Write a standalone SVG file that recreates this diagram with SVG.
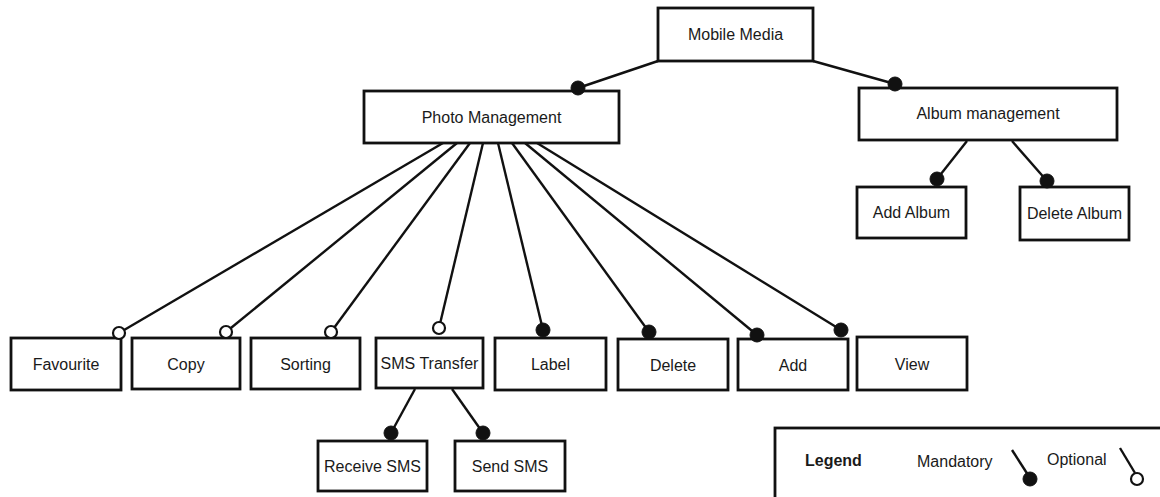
<svg xmlns="http://www.w3.org/2000/svg" width="1160" height="497" viewBox="0 0 1160 497">
<style>
.box{fill:#fff;stroke:#111;stroke-width:2.8}
.t{font-family:"Liberation Sans",Arial,sans-serif;font-size:16px;fill:#1a1a1a;text-anchor:middle}
.lg{font-family:"Liberation Sans",Arial,sans-serif;font-size:16px;fill:#1a1a1a}
.ln{stroke:#111;stroke-width:2.4;fill:none}
.m{fill:#111;stroke:#111;stroke-width:1}
.o{fill:#fff;stroke:#111;stroke-width:2.2}
</style>
<rect width="1160" height="497" fill="#fff"/>
<g id="connectors">
<line class="ln" x1="658" y1="61" x2="578" y2="88"/>
<line class="ln" x1="813" y1="61" x2="895" y2="84"/>
<line class="ln" x1="967" y1="141" x2="937" y2="179"/>
<line class="ln" x1="1012" y1="141" x2="1047" y2="181"/>
<line class="ln" x1="443" y1="143" x2="119" y2="333"/>
<line class="ln" x1="457" y1="143" x2="226" y2="332"/>
<line class="ln" x1="470" y1="143" x2="331" y2="332"/>
<line class="ln" x1="483" y1="143" x2="439" y2="328"/>
<line class="ln" x1="498" y1="143" x2="543" y2="330"/>
<line class="ln" x1="512" y1="143" x2="649" y2="332"/>
<line class="ln" x1="525" y1="143" x2="757" y2="335"/>
<line class="ln" x1="537" y1="143" x2="841" y2="330"/>
<line class="ln" x1="415" y1="389" x2="391" y2="433"/>
<line class="ln" x1="452" y1="389" x2="483" y2="433"/>
</g>
<g id="mobile-media"><rect class="box" x="658" y="8" width="155" height="53"/><text class="t" x="735.5" y="40">Mobile Media</text></g>
<g id="photo-management"><rect class="box" x="364" y="91" width="255" height="52"/><text class="t" x="491.5" y="123">Photo Management</text></g>
<g id="album-management"><rect class="box" x="859" y="88" width="258" height="52"/><text class="t" x="988" y="119">Album management</text></g>
<g id="add-album"><rect class="box" x="857" y="187" width="109" height="51"/><text class="t" x="911.5" y="218">Add Album</text></g>
<g id="delete-album"><rect class="box" x="1020" y="187" width="109" height="53"/><text class="t" x="1074.5" y="219">Delete Album</text></g>
<g id="favourite"><rect class="box" x="11" y="338" width="110" height="52"/><text class="t" x="66" y="370">Favourite</text></g>
<g id="copy"><rect class="box" x="132" y="338" width="108" height="51"/><text class="t" x="186" y="370">Copy</text></g>
<g id="sorting"><rect class="box" x="251" y="338" width="109" height="51"/><text class="t" x="305.5" y="370">Sorting</text></g>
<g id="sms-transfer"><rect class="box" x="376" y="338" width="107" height="50"/><text class="t" x="429.5" y="369">SMS Transfer</text></g>
<g id="label"><rect class="box" x="495" y="338" width="111" height="52"/><text class="t" x="550.5" y="370">Label</text></g>
<g id="delete"><rect class="box" x="618" y="339" width="110" height="51"/><text class="t" x="673" y="371">Delete</text></g>
<g id="add"><rect class="box" x="738" y="339" width="110" height="51"/><text class="t" x="793" y="371">Add</text></g>
<g id="view"><rect class="box" x="857" y="337" width="110" height="53"/><text class="t" x="912" y="370">View</text></g>
<g id="receive-sms"><rect class="box" x="318" y="441" width="109" height="50"/><text class="t" x="372.5" y="472">Receive SMS</text></g>
<g id="send-sms"><rect class="box" x="455" y="441" width="110" height="50"/><text class="t" x="510" y="472">Send SMS</text></g>
<g id="markers">
<circle class="m" cx="578" cy="88" r="7"/>
<circle class="m" cx="895" cy="84" r="7"/>
<circle class="m" cx="937" cy="179" r="7"/>
<circle class="m" cx="1047" cy="181" r="7"/>
<circle class="o" cx="119" cy="333" r="6"/>
<circle class="o" cx="226" cy="332" r="6"/>
<circle class="o" cx="331" cy="332" r="6"/>
<circle class="o" cx="439" cy="328" r="6"/>
<circle class="m" cx="543" cy="330" r="7"/>
<circle class="m" cx="649" cy="332" r="7"/>
<circle class="m" cx="757" cy="335" r="7"/>
<circle class="m" cx="841" cy="330" r="7"/>
<circle class="m" cx="391" cy="433" r="7"/>
<circle class="m" cx="483" cy="433" r="7"/>
</g>
<g id="legend">
<rect class="box" x="775" y="428" width="400" height="100"/>
<text class="lg" x="805" y="466" font-weight="bold">Legend</text>
<text class="lg" x="917" y="467">Mandatory</text>
<line class="ln" x1="1012" y1="450" x2="1030" y2="478"/>
<circle class="m" cx="1030" cy="479" r="7"/>
<text class="lg" x="1047" y="465">Optional</text>
<line class="ln" x1="1120" y1="448" x2="1135" y2="473"/>
<circle class="o" cx="1137" cy="479" r="6"/>
</g>
</svg>
